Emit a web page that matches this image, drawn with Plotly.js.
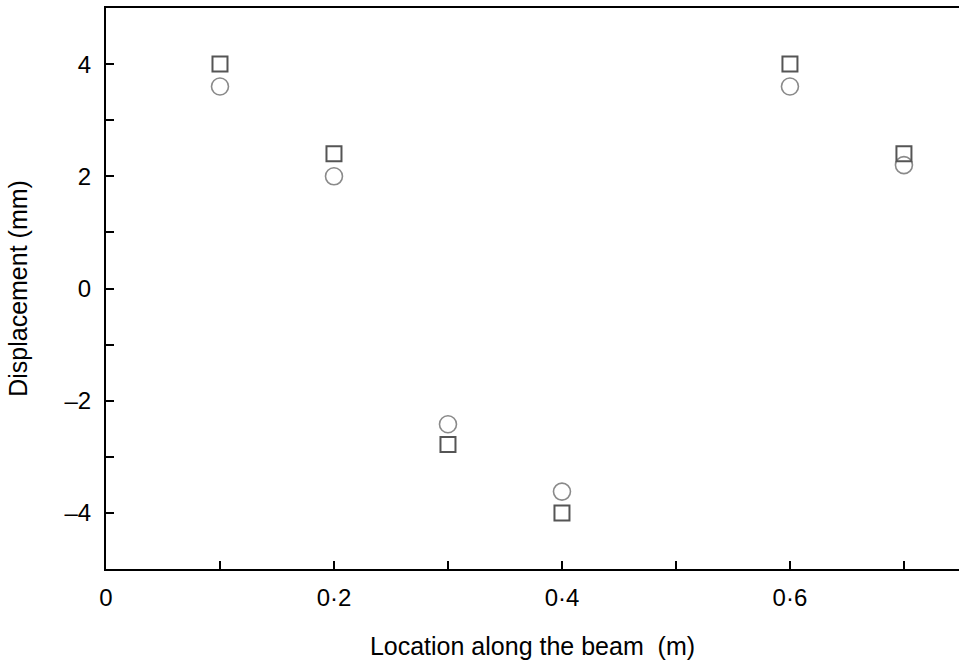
<!DOCTYPE html>
<html>
<head>
<meta charset="utf-8">
<script src="https://cdn.plot.ly/plotly-3.0.1.min.js"></script>
<style>
  html, body { margin: 0; padding: 0; background: #fff; }
  #chart { width: 959px; height: 665px; }
</style>
</head>
<body>
<div id="chart"></div>
<script>
// Beam locations (m) where displacement was recorded
const locations = [0.1, 0.2, 0.3, 0.4, 0.6, 0.7];
// Displacement (mm), square-marker series
const squareSeries = [4.0, 2.4, -2.78, -4.0, 4.0, 2.4];
// Displacement (mm), circle-marker series
const circleSeries = [3.6, 2.0, -2.42, -3.62, 3.6, 2.2];

// Axis tick positions and their labels
const xTickVals = [0, 0.2, 0.4, 0.6];
const xTickText = ['0', '0\u00b72', '0\u00b74', '0\u00b76'];
const xMinorVals = [0.1, 0.3, 0.5, 0.7];
const yTickVals = [-4, -2, 0, 2, 4];
const yTickText = ['\u20134', '\u20132', '0', '2', '4'];
const yMinorVals = [-3, -1, 1, 3];

const FONT = '"Liberation Sans", Arial, Helvetica, sans-serif';

const traces = [
  {
    x: locations, y: circleSeries, type: 'scatter', mode: 'markers',
    marker: { symbol: 'circle-open', size: 17, color: '#8a8a8a', line: { width: 1.6, color: '#8a8a8a' } },
    hoverinfo: 'x+y'
  },
  {
    x: locations, y: squareSeries, type: 'scatter', mode: 'markers',
    marker: { symbol: 'square-open', size: 15, color: '#555555', line: { width: 2, color: '#555555' } },
    hoverinfo: 'x+y'
  }
];

const layout = {
  width: 959, height: 665,
  margin: { l: 106, r: 0, t: 8, b: 96 },
  paper_bgcolor: '#ffffff', plot_bgcolor: '#ffffff',
  showlegend: false,
  font: { family: FONT, size: 24, color: '#000' },
  xaxis: {
    range: [0, 0.7483], showgrid: false, zeroline: false,
    showline: true, linecolor: '#000', linewidth: 2, mirror: true,
    tickmode: 'array', tickvals: xTickVals, ticktext: xTickText,
    ticks: 'inside', ticklen: 8, tickwidth: 2, tickcolor: '#000',
    ticklabelstandoff: 6,
    tickfont: { family: FONT, size: 24, color: '#000' },
    minor: { tickmode: 'array', tickvals: xMinorVals, ticks: 'inside', ticklen: 8, tickwidth: 2, tickcolor: '#000', showgrid: false },
    title: { text: 'Location along the beam\u00a0 (m)', font: { family: FONT, size: 25, color: '#000' }, standoff: 28 }
  },
  yaxis: {
    range: [-5, 5], showgrid: false, zeroline: false,
    showline: true, linecolor: '#000', linewidth: 2, mirror: false,
    tickmode: 'array', tickvals: yTickVals, ticktext: yTickText,
    ticks: 'inside', ticklen: 8, tickwidth: 2, tickcolor: '#000',
    ticklabelstandoff: 8,
    tickfont: { family: FONT, size: 24, color: '#000' },
    minor: { tickmode: 'array', tickvals: yMinorVals, ticks: 'inside', ticklen: 8, tickwidth: 2, tickcolor: '#000', showgrid: false },
    title: { text: 'Displacement (mm)', font: { family: FONT, size: 25, color: '#000' }, standoff: 30 }
  }
};

Plotly.newPlot('chart', traces, layout, { staticPlot: true, displayModeBar: false });
</script>
</body>
</html>
